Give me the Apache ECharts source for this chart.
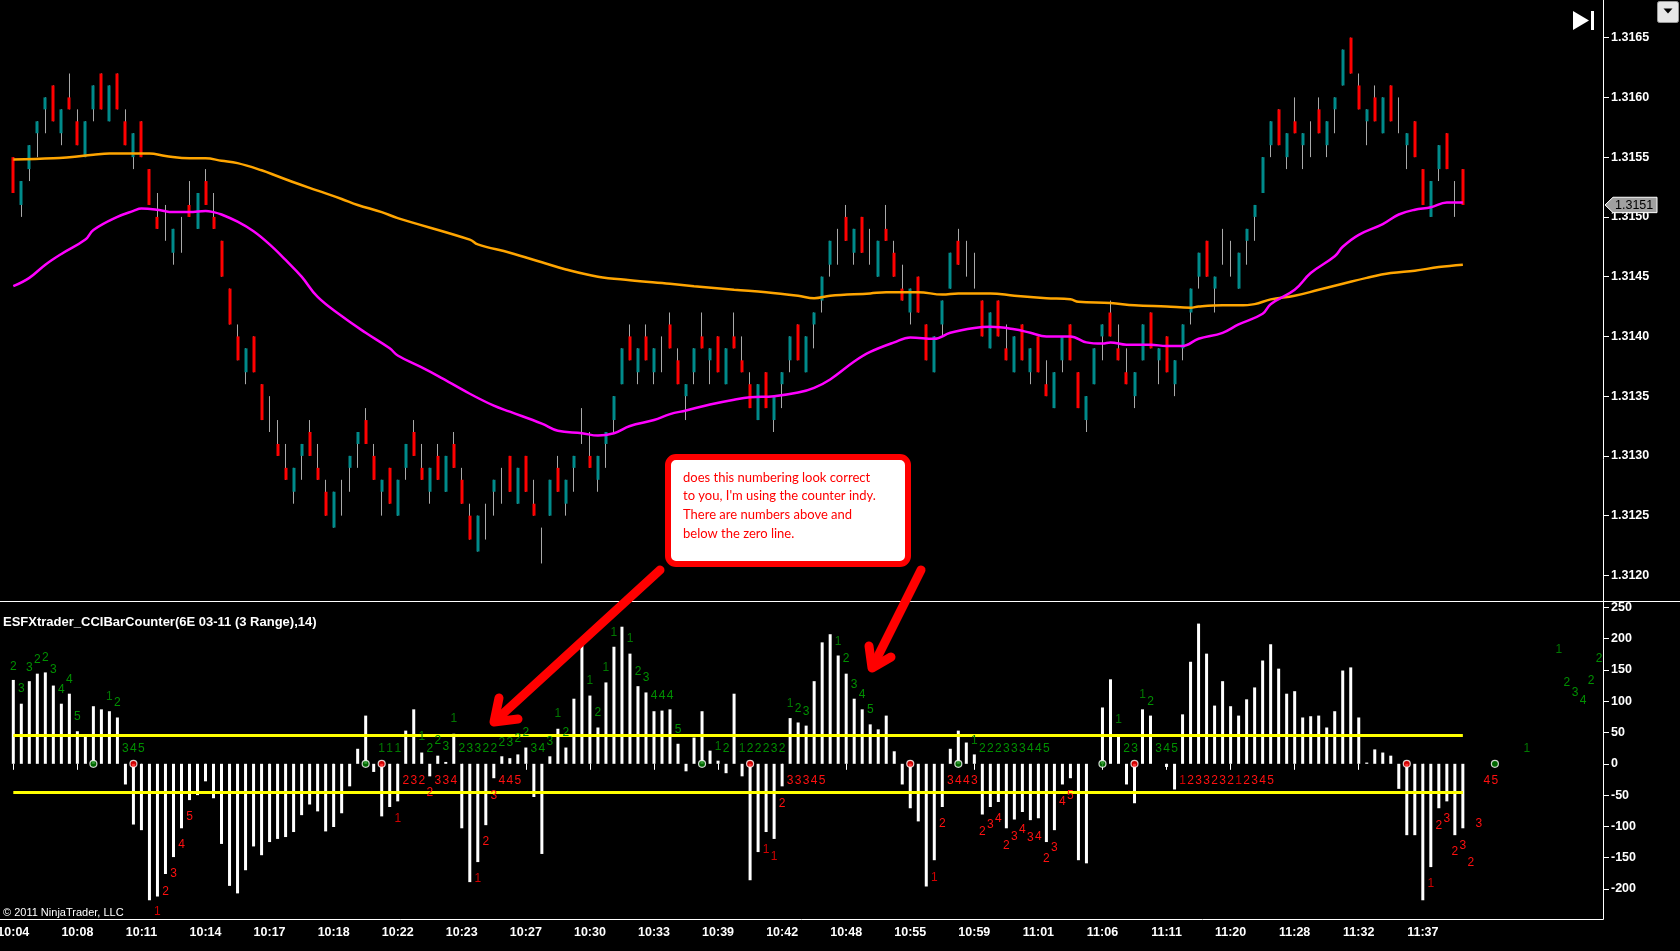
<!DOCTYPE html>
<html><head><meta charset="utf-8">
<script src="https://cdn.jsdelivr.net/npm/echarts@6/dist/echarts.min.js"></script>
<style>html,body{margin:0;padding:0;background:#000;overflow:hidden}#c{width:1680px;height:951px}</style>
</head><body><div id="c"></div>
<script>
// ---- data ----
const times = ['10:04','10:08','10:11','10:14','10:17','10:18','10:22','10:23','10:27','10:30','10:33','10:39','10:42','10:48','10:55','10:59','11:01','11:06','11:11','11:20','11:28','11:32','11:37'];

const open = [1.3155,1.3151,1.3154,1.3157,1.3159,1.3161,1.3157,1.3160,1.3158,1.3155,
1.3159,1.3162,1.3158,1.3162,1.3158,1.3155,1.3158,1.3154,1.3150,1.3149,
1.3147,1.3148,1.3151,1.3149,1.3153,1.3150,1.3148,1.3144,1.3140,1.3137,
1.3140,1.3136,1.3133,1.3131,1.3129,1.3127,1.3130,1.3132,1.3129,1.3127,
1.3124,1.3126,1.3129,1.3131,1.3133,1.3130,1.3127,1.3129,1.3125,1.3129,
1.3132,1.3129,1.3127,1.3130,1.3127,1.3131,1.3128,1.3125,1.3122,1.3124,
1.3127,1.3127,1.3130,1.3126,1.3130,1.3126,1.3122,1.3125,1.3129,1.3126,
1.3129,1.3132,1.3130,1.3128,1.3131,1.3133,1.3136,1.3140,1.3137,1.3140,
1.3137,1.3138,1.3141,1.3138,1.3135,1.3137,1.3140,1.3138,1.3140,1.3136,
1.3140,1.3138,1.3136,1.3133,1.3137,1.3133,1.3136,1.3138,1.3141,1.3137,
1.3141,1.3143,1.3146,1.3147,1.3150,1.3147,1.3150,1.3147,1.3145,1.3149,
1.3147,1.3144,1.3142,1.3145,1.3141,1.3137,1.3141,1.3144,1.3148,1.3146,
1.3145,1.3143,1.3139,1.3143,1.3139,1.3137,1.3141,1.3137,1.3140,1.3136,
1.3134,1.3138,1.3141,1.3137,1.3133,1.3136,1.3140,1.3142,1.3139,1.3137,
1.3135,1.3138,1.3142,1.3138,1.3140,1.3136,1.3139,1.3142,1.3145,1.3148,
1.3144,1.3147,1.3146,1.3144,1.3148,1.3150,1.3152,1.3156,1.3159,1.3155,
1.3158,1.3156,1.3156,1.3159,1.3156,1.3159,1.3161,1.3165,1.3161,1.3158,
1.3160,1.3157,1.3161,1.3158,1.3156,1.3158,1.3154,1.3150,1.3154,1.3157,
1.3151,1.3154];

const high = [1.3155,1.3153,1.3156,1.3158,1.3160,1.3161,1.3159,1.3162,1.3159,1.3158,
1.3161,1.3162,1.3161,1.3162,1.3159,1.3157,1.3158,1.3154,1.3152,1.3151,
1.3149,1.3150,1.3153,1.3152,1.3154,1.3152,1.3148,1.3144,1.3141,1.3139,
1.3140,1.3136,1.3135,1.3133,1.3131,1.3129,1.3131,1.3133,1.3131,1.3128,
1.3127,1.3128,1.3130,1.3132,1.3134,1.3131,1.3128,1.3129,1.3128,1.3131,
1.3133,1.3131,1.3129,1.3131,1.3130,1.3132,1.3129,1.3126,1.3125,1.3126,
1.3128,1.3129,1.3130,1.3129,1.3130,1.3128,1.3124,1.3128,1.3130,1.3128,
1.3130,1.3134,1.3132,1.3130,1.3132,1.3135,1.3139,1.3141,1.3139,1.3141,
1.3139,1.3140,1.3142,1.3139,1.3136,1.3139,1.3142,1.3139,1.3140,1.3139,
1.3142,1.3140,1.3137,1.3136,1.3137,1.3135,1.3137,1.3140,1.3141,1.3140,
1.3142,1.3145,1.3148,1.3149,1.3151,1.3149,1.3150,1.3149,1.3148,1.3151,
1.3148,1.3146,1.3144,1.3145,1.3141,1.3140,1.3143,1.3147,1.3149,1.3148,
1.3147,1.3143,1.3142,1.3143,1.3141,1.3140,1.3141,1.3139,1.3140,1.3138,
1.3137,1.3140,1.3141,1.3137,1.3135,1.3139,1.3141,1.3143,1.3141,1.3139,
1.3137,1.3141,1.3142,1.3139,1.3140,1.3138,1.3141,1.3144,1.3147,1.3148,
1.3145,1.3149,1.3148,1.3147,1.3149,1.3151,1.3155,1.3158,1.3159,1.3157,
1.3160,1.3157,1.3158,1.3160,1.3158,1.3160,1.3164,1.3165,1.3162,1.3159,
1.3161,1.3160,1.3161,1.3160,1.3157,1.3158,1.3154,1.3153,1.3156,1.3157,
1.3153,1.3154];

const low = [1.3152,1.3150,1.3153,1.3155,1.3157,1.3158,1.3156,1.3159,1.3156,1.3155,
1.3158,1.3159,1.3158,1.3159,1.3156,1.3154,1.3155,1.3151,1.3149,1.3148,
1.3146,1.3147,1.3150,1.3149,1.3151,1.3149,1.3145,1.3141,1.3138,1.3136,
1.3137,1.3133,1.3132,1.3130,1.3128,1.3126,1.3128,1.3130,1.3128,1.3125,
1.3124,1.3125,1.3127,1.3129,1.3131,1.3128,1.3125,1.3126,1.3125,1.3128,
1.3130,1.3128,1.3126,1.3128,1.3127,1.3129,1.3126,1.3123,1.3122,1.3123,
1.3125,1.3126,1.3127,1.3126,1.3127,1.3125,1.3121,1.3125,1.3127,1.3125,
1.3127,1.3131,1.3129,1.3127,1.3129,1.3132,1.3136,1.3138,1.3136,1.3138,
1.3136,1.3137,1.3139,1.3136,1.3133,1.3136,1.3139,1.3136,1.3137,1.3136,
1.3139,1.3137,1.3134,1.3133,1.3134,1.3132,1.3134,1.3137,1.3138,1.3137,
1.3139,1.3142,1.3145,1.3146,1.3148,1.3146,1.3147,1.3146,1.3145,1.3148,
1.3145,1.3143,1.3141,1.3142,1.3138,1.3137,1.3140,1.3144,1.3146,1.3145,
1.3144,1.3140,1.3139,1.3140,1.3138,1.3137,1.3138,1.3136,1.3137,1.3135,
1.3134,1.3137,1.3138,1.3134,1.3132,1.3136,1.3138,1.3140,1.3138,1.3136,
1.3134,1.3138,1.3139,1.3136,1.3137,1.3135,1.3138,1.3141,1.3144,1.3145,
1.3142,1.3146,1.3145,1.3144,1.3146,1.3148,1.3152,1.3155,1.3156,1.3154,
1.3157,1.3154,1.3155,1.3157,1.3155,1.3157,1.3161,1.3162,1.3159,1.3156,
1.3158,1.3157,1.3158,1.3157,1.3154,1.3155,1.3151,1.3150,1.3153,1.3154,
1.3150,1.3151];

const close = [1.3152,1.3153,1.3156,1.3158,1.3160,1.3158,1.3159,1.3159,1.3156,1.3158,
1.3161,1.3159,1.3161,1.3159,1.3156,1.3157,1.3155,1.3151,1.3149,1.3149,
1.3149,1.3148,1.3150,1.3152,1.3151,1.3149,1.3145,1.3141,1.3138,1.3139,
1.3137,1.3133,1.3133,1.3130,1.3128,1.3129,1.3131,1.3130,1.3128,1.3125,
1.3127,1.3126,1.3130,1.3132,1.3131,1.3128,1.3128,1.3126,1.3128,1.3131,
1.3130,1.3128,1.3129,1.3128,1.3130,1.3129,1.3126,1.3123,1.3125,1.3124,
1.3128,1.3127,1.3127,1.3129,1.3127,1.3125,1.3122,1.3128,1.3127,1.3128,
1.3130,1.3132,1.3129,1.3130,1.3132,1.3135,1.3139,1.3138,1.3139,1.3138,
1.3139,1.3138,1.3139,1.3136,1.3136,1.3139,1.3139,1.3139,1.3137,1.3139,
1.3139,1.3137,1.3134,1.3136,1.3134,1.3135,1.3137,1.3140,1.3138,1.3140,
1.3142,1.3145,1.3148,1.3147,1.3148,1.3149,1.3147,1.3147,1.3148,1.3148,
1.3145,1.3143,1.3144,1.3142,1.3138,1.3140,1.3143,1.3147,1.3146,1.3146,
1.3145,1.3140,1.3142,1.3140,1.3138,1.3140,1.3138,1.3139,1.3137,1.3135,
1.3137,1.3140,1.3138,1.3134,1.3135,1.3139,1.3141,1.3140,1.3138,1.3136,
1.3137,1.3141,1.3139,1.3139,1.3137,1.3138,1.3141,1.3144,1.3147,1.3145,
1.3145,1.3147,1.3146,1.3147,1.3149,1.3151,1.3155,1.3158,1.3156,1.3157,
1.3157,1.3157,1.3156,1.3157,1.3158,1.3160,1.3164,1.3162,1.3159,1.3159,
1.3158,1.3160,1.3158,1.3158,1.3157,1.3155,1.3151,1.3153,1.3156,1.3154,
1.3151,1.3151];

const cciValues = [134,96,132,144,146,125,96,112,52,43,
92,87,84,74,-33,-97,-106,-218,-212,-176,
-149,-103,-58,-50,-28,-55,-128,-195,-207,-170,
-132,-146,-125,-120,-117,-109,-82,-65,-76,-108,
-101,-79,-36,24,77,-13,-84,-69,-60,53,
87,18,-20,13,3,48,-103,-189,-157,-98,
-23,12,9,15,26,-53,-144,12,56,26,
104,194,109,58,130,187,219,176,124,114,
84,85,87,32,-12,42,84,21,5,-15,
112,-20,-186,-141,-109,-120,-36,73,66,61,
132,194,207,173,144,104,87,63,55,77,
20,-33,-71,-92,-196,-154,-69,24,53,34,
15,-81,-69,-61,-103,-89,-77,-90,-87,-125,
-106,-33,-23,-154,-159,0,90,135,47,-33,
-63,87,77,0,-5,-41,79,163,224,176,
93,132,92,77,103,122,165,191,152,112,
116,74,76,77,58,84,149,154,74,2,
23,18,13,-40,-114,-114,-218,-165,-71,-60,
-114,-103];

// moving averages sampled at bar indices [bar, price]
const maSlow = [[0,1.31548],[5,1.31549],[7,1.31550],[10,1.31552],[12,1.31553],[17,1.31553],[19,1.31551],[22,1.31549],[24,1.31549],[26,1.31547],[28,1.31545],[31,1.31539],[33,1.31534],[35,1.31529],[38,1.31522],[41,1.31515],[43,1.31510],[46,1.31504],[48,1.31499],[57,1.31481],[58,1.31477],[62,1.31470],[66,1.31462],[69,1.31456],[73,1.31450],[77,1.31447],[82,1.31444],[85,1.31442],[90,1.31439],[94,1.31437],[98,1.31434],[100,1.31432],[102,1.31434],[107,1.31436],[109,1.31437],[113,1.31437],[116,1.31435],[118,1.31436],[122,1.31436],[125,1.31434],[129,1.31432],[132,1.31431],[133,1.31429],[137,1.31428],[140,1.31426],[144,1.31425],[147,1.31424],[148,1.31425],[151,1.31426],[153,1.31426],[155,1.31427],[157,1.31431],[160,1.31434],[163,1.31439],[166,1.31444],[169,1.31449],[172,1.31453],[175,1.31455],[178,1.31458],[181,1.31460]];

const maFast = [[0,1.31442],[2,1.31449],[4,1.31460],[6,1.31469],[9,1.31481],[10,1.31489],[13,1.31500],[15,1.31505],[16,1.31507],[18,1.31506],[20,1.31504],[22,1.31504],[24,1.31505],[25,1.31504],[26,1.31502],[28,1.31496],[30,1.31488],[32,1.31477],[34,1.31464],[36,1.31450],[38,1.31433],[41,1.31417],[44,1.31403],[47,1.31390],[48,1.31384],[51,1.31374],[53,1.31367],[57,1.31352],[60,1.31342],[62,1.31337],[66,1.31327],[68,1.31321],[71,1.31319],[73,1.31317],[75,1.31319],[77,1.31325],[80,1.31330],[82,1.31335],[84,1.31338],[87,1.31343],[90,1.31347],[92,1.31349],[95,1.31350],[98,1.31353],[100,1.31357],[102,1.31364],[105,1.31379],[107,1.31387],[110,1.31395],[112,1.31399],[115,1.31398],[117,1.31403],[120,1.31407],[122,1.31408],[125,1.31406],[127,1.31403],[129,1.31400],[132,1.31400],[134,1.31395],[136,1.31394],[137,1.31395],[139,1.31393],[140,1.31393],[142,1.31393],[144,1.31392],[146,1.31392],[148,1.31398],[151,1.31403],[153,1.31410],[156,1.31419],[157,1.31427],[160,1.31439],[162,1.31453],[165,1.31467],[166,1.31475],[168,1.31485],[171,1.31494],[173,1.31502],[175,1.31506],[177,1.31508],[179,1.31512],[181,1.31512]];

// counter numbers [bar, cci position, digit]
const greenCounts = [[0,155,'2'],[1,120,'3'],[2,154,'3'],[3,167,'2'],[4,169,'2'],[5,150,'3'],[6,119,'4'],[7,135,'4'],[8,75,'5'],[12,108,'1'],[13,97,'2'],[14,24,'3'],[15,24,'4'],[16,24,'5'],[46,24,'1'],[47,24,'1'],[48,24,'1'],[51,43,'1'],[52,24,'2'],[53,37,'2'],[54,28,'3'],[55,72,'1'],[56,24,'2'],[57,24,'3'],[58,24,'3'],[59,24,'2'],[60,24,'2'],[61,34,'2'],[62,34,'3'],[63,40,'2'],[64,50,'2'],[65,24,'3'],[66,24,'4'],[67,35,'3'],[68,80,'1'],[69,50,'2'],[72,133,'1'],[73,82,'2'],[74,153,'1'],[75,209,'1'],[77,200,'1'],[78,147,'2'],[79,137,'3'],[80,109,'4'],[81,109,'4'],[82,109,'4'],[83,55,'5'],[88,28,'1'],[89,24,'2'],[91,24,'1'],[92,24,'2'],[93,24,'2'],[94,24,'2'],[95,24,'3'],[96,24,'2'],[97,96,'1'],[98,88,'2'],[99,84,'3'],[103,195,'1'],[104,168,'2'],[105,126,'3'],[106,110,'4'],[107,87,'5'],[120,37,'1'],[121,24,'2'],[122,24,'2'],[123,24,'2'],[124,24,'3'],[125,24,'3'],[126,24,'3'],[127,24,'4'],[128,24,'4'],[129,24,'5'],[138,71,'1'],[139,24,'2'],[140,24,'3'],[141,110,'1'],[142,99,'2'],[143,24,'3'],[144,24,'4'],[145,24,'5'],[189,24,'1'],[193,183,'1'],[194,129,'2'],[195,113,'3'],[196,101,'4'],[197,132,'2'],[198,168,'2']];

const redCounts = [[18,-237,'1'],[19,-204,'2'],[20,-175,'3'],[21,-129,'4'],[22,-85,'5'],[48,-87,'1'],[49,-27,'2'],[50,-27,'3'],[51,-27,'2'],[52,-46,'2'],[53,-27,'3'],[54,-27,'3'],[55,-27,'4'],[58,-183,'1'],[59,-125,'2'],[60,-51,'3'],[61,-27,'4'],[62,-27,'4'],[63,-27,'5'],[94,-137,'1'],[95,-149,'1'],[96,-63,'2'],[97,-27,'3'],[98,-27,'3'],[99,-27,'3'],[100,-27,'4'],[101,-27,'5'],[115,-182,'1'],[116,-95,'2'],[117,-27,'3'],[118,-27,'4'],[119,-27,'4'],[120,-27,'3'],[121,-109,'2'],[122,-97,'3'],[123,-88,'4'],[124,-131,'2'],[125,-117,'3'],[126,-105,'4'],[127,-118,'3'],[128,-116,'4'],[129,-151,'2'],[130,-134,'3'],[131,-61,'4'],[132,-51,'5'],[146,-27,'1'],[147,-27,'2'],[148,-27,'3'],[149,-27,'3'],[150,-27,'2'],[151,-27,'3'],[152,-27,'2'],[153,-27,'1'],[154,-27,'2'],[155,-27,'3'],[156,-27,'4'],[157,-27,'5'],[177,-191,'1'],[178,-99,'2'],[179,-87,'3'],[180,-141,'2'],[181,-131,'3'],[182,-158,'2'],[183,-95,'3'],[184,-27,'4'],[185,-27,'5']];

const greenDots = [10,44,86,118,136,185];
const redDots = [15,46,92,112,140,174];
const cciLevels = [45,-45];
const priceTicks = [1.3120,1.3125,1.3130,1.3135,1.3140,1.3145,1.3150,1.3155,1.3160,1.3165];
const cciTicks = [250,200,150,100,50,0,-50,-100,-150,-200];
const titleText = 'ESFXtrader_CCIBarCounter(6E 03-11 (3 Range),14)';
const noteText = "does this numbering look correct\nto you, I'm using the counter indy.\nThere are numbers above and\nbelow the zero line.";

// ---- chart ----
const N = 199;
const cats = Array.from({length: N}, (_, i) => String(i));
const lastBar = open.length - 1;
const FONT = 'Liberation Sans';

const wickData = open.map((o, i) => [o, close[i], low[i], high[i]]);
const bodyData = open.map((o, i) => o === close[i] ? '-' : [o, close[i], Math.min(o, close[i]), Math.max(o, close[i])]);
const dotData = greenDots.map(b => ({value: [b, 0], itemStyle: {color: '#008000'}}))
  .concat(redDots.map(b => ({value: [b, 0], itemStyle: {color: '#ff0000'}})));
const labelData = greenCounts.map(d => ({value: [d[0], d[1]], name: d[2], label: {color: d[2] === '1' ? '#007800' : '#009000'}}))
  .concat(redCounts.map(d => ({value: [d[0], d[1]], name: d[2], label: {color: d[2] === '1' ? '#d00000' : '#ff1010'}})));
const labelEvery = idx => idx % 8 === 0 && idx / 8 < times.length;

const chart = echarts.init(document.getElementById('c'), null, {renderer: 'canvas'});
const option = {
  backgroundColor: '#000',
  animation: false,
  grid: [
    {left: 9.3, top: 0, width: 1593.7, height: 601, outerBoundsMode: 'none', containLabel: false},
    {left: 9.3, top: 599.8, width: 1593.7, height: 319.25, outerBoundsMode: 'none', containLabel: false}
  ],
  xAxis: [
    {type: 'category', gridIndex: 0, data: cats, show: false},
    {type: 'category', gridIndex: 1, data: cats,
      axisLine: {show: false},
      axisTick: {show: true, alignWithLabel: true, interval: labelEvery, length: 6, lineStyle: {color: '#fff'}},
      axisLabel: {interval: labelEvery, formatter: (v, idx) => times[idx / 8] || '', color: '#fff', fontFamily: FONT, fontWeight: 'bold', fontSize: 12.5, margin: 7},
      splitLine: {show: false}}
  ],
  yAxis: [
    {type: 'value', gridIndex: 0, position: 'right', min: 1.3117858, max: 1.3168151, scale: true,
      axisLine: {show: false}, splitLine: {show: false},
      axisTick: {show: true, length: 6, lineStyle: {color: '#fff'}, customValues: priceTicks},
      axisLabel: {customValues: priceTicks, formatter: v => v.toFixed(4), color: '#fff', fontFamily: FONT, fontWeight: 'bold', fontSize: 12.5, margin: 8}},
    {type: 'value', gridIndex: 1, position: 'right', min: -248, max: 262,
      axisLine: {show: false}, splitLine: {show: false},
      axisTick: {show: true, length: 6, lineStyle: {color: '#fff'}, customValues: cciTicks},
      axisLabel: {customValues: cciTicks, color: '#fff', fontFamily: FONT, fontWeight: 'bold', fontSize: 12.5, margin: 8}}
  ],
  series: [
    {type: 'candlestick', name: 'wicks', xAxisIndex: 0, yAxisIndex: 0, data: wickData, barWidth: 1, silent: true, z: 2,
      itemStyle: {color: '#a9a9a9', color0: '#a9a9a9', borderColor: '#a9a9a9', borderColor0: '#a9a9a9', borderColorDoji: '#a9a9a9', borderWidth: 1}},
    {type: 'candlestick', name: 'bodies', xAxisIndex: 0, yAxisIndex: 0, data: bodyData, barWidth: 3.5, silent: true, z: 3,
      itemStyle: {color: '#008b8b', color0: '#ff0000', borderColor: '#008b8b', borderColor0: '#ff0000', borderWidth: 0}},
    {type: 'line', name: 'slow', xAxisIndex: 0, yAxisIndex: 0, data: maSlow, symbol: 'none', smooth: 0.4, silent: true, z: 4,
      lineStyle: {color: '#ffa500', width: 2.5}},
    {type: 'line', name: 'fast', xAxisIndex: 0, yAxisIndex: 0, data: maFast, symbol: 'none', smooth: 0.4, silent: true, z: 4,
      lineStyle: {color: '#ff00ff', width: 2.5}},
    {type: 'bar', name: 'cci', xAxisIndex: 1, yAxisIndex: 1, data: cciValues, barWidth: 3, silent: true, z: 2,
      itemStyle: {color: '#ffffff'},
      markLine: {silent: true, symbol: 'none', label: {show: false}, lineStyle: {color: '#ffff00', width: 3, type: 'solid'},
        data: cciLevels.map(v => [{coord: ['0', v]}, {coord: [String(lastBar), v]}])}},
    {type: 'scatter', name: 'dots', xAxisIndex: 1, yAxisIndex: 1, data: dotData, symbol: 'circle', symbolSize: 7, silent: true, z: 5,
      itemStyle: {borderColor: '#ffffff', borderWidth: 1.2}},
    {type: 'scatter', name: 'counts', xAxisIndex: 1, yAxisIndex: 1, data: labelData, symbol: 'rect', symbolSize: 1, silent: true, z: 6,
      itemStyle: {color: 'rgba(0,0,0,0)'},
      label: {show: true, position: 'inside', formatter: p => p.name, fontFamily: FONT, fontSize: 12, align: 'center', verticalAlign: 'middle', textBorderWidth: 0, textShadowBlur: 0, opacity: 1},
      labelLayout: {hideOverlap: false}}
  ],
  graphic: [
    {type: 'line', shape: {x1: 0, y1: 601.5, x2: 1680, y2: 601.5}, style: {stroke: '#fff', lineWidth: 1}, silent: true, z: 10},
    {type: 'line', shape: {x1: 1603.5, y1: 0, x2: 1603.5, y2: 919.5}, style: {stroke: '#fff', lineWidth: 1}, silent: true, z: 10},
    {type: 'line', shape: {x1: 0, y1: 919.5, x2: 1603.5, y2: 919.5}, style: {stroke: '#fff', lineWidth: 1}, silent: true, z: 10},
    {type: 'text', x: 3, y: 622, style: {text: titleText, fill: '#fff', fontFamily: FONT, fontWeight: 'bold', fontSize: 13, verticalAlign: 'middle', align: 'left'}, silent: true, z: 10},
    {type: 'text', x: 3, y: 913, style: {text: '\u00a9 2011 NinjaTrader, LLC', fill: '#fff', fontFamily: FONT, fontSize: 11, verticalAlign: 'middle', align: 'left'}, silent: true, z: 10},
    // end-of-chart icon
    {type: 'polygon', shape: {points: [[1573, 11], [1573, 30], [1589, 20.5]]}, style: {fill: '#fff'}, silent: true, z: 10},
    {type: 'rect', shape: {x: 1591, y: 11, width: 3, height: 19}, style: {fill: '#fff'}, silent: true, z: 10},
    // dropdown button
    {type: 'rect', shape: {x: 1657.5, y: 1.5, width: 21, height: 21, r: 2}, style: {fill: '#e6e6e6', stroke: '#9a9a9a', lineWidth: 1}, silent: true, z: 10},
    {type: 'polygon', shape: {points: [[1663.5, 8.5], [1672.5, 8.5], [1668, 13.5]]}, style: {fill: '#000'}, silent: true, z: 11},
    // arrows
    {type: 'line', shape: {x1: 660, y1: 570, x2: 495, y2: 721}, style: {stroke: '#ff0000', lineWidth: 9, lineCap: 'round'}, silent: true, z: 20},
    {type: 'polyline', shape: {points: [[499, 698], [494, 722], [518, 719]]}, style: {stroke: '#ff0000', lineWidth: 9, lineJoin: 'round', lineCap: 'round', fill: null}, silent: true, z: 20},
    {type: 'line', shape: {x1: 921, y1: 570, x2: 873, y2: 666}, style: {stroke: '#ff0000', lineWidth: 9, lineCap: 'round'}, silent: true, z: 20},
    {type: 'polyline', shape: {points: [[869, 646], [872, 668], [891, 657]]}, style: {stroke: '#ff0000', lineWidth: 9, lineJoin: 'round', lineCap: 'round', fill: null}, silent: true, z: 20},
    // note box
    {type: 'rect', shape: {x: 668, y: 457, width: 240, height: 107, r: 8}, style: {fill: '#fff', stroke: '#ff0000', lineWidth: 6}, silent: true, z: 21},
    {type: 'text', x: 683, y: 468, style: {text: noteText, fill: '#ff0000', fontFamily: 'Lato', fontSize: 13, lineHeight: 18.7, align: 'left', verticalAlign: 'top'}, silent: true, z: 22}
  ]
};
chart.setOption(option);

// current price marker on the price axis
const lastClose = close[lastBar];
const py = chart.convertToPixel({xAxisIndex: 0, yAxisIndex: 0}, [lastBar, lastClose])[1];
chart.setOption({graphic: option.graphic.concat([
  {type: 'polygon', shape: {points: [[1605, py], [1613, py - 7.7], [1657, py - 7.7], [1657, py + 7.7], [1613, py + 7.7]]}, style: {fill: '#a0a0a0', stroke: '#fff', lineWidth: 1}, silent: true, z: 30},
  {type: 'text', x: 1615, y: py + 0.5, style: {text: lastClose.toFixed(4), fill: '#000', fontFamily: FONT, fontSize: 12.5, verticalAlign: 'middle', align: 'left'}, silent: true, z: 31}
])});
</script>
</body></html>
